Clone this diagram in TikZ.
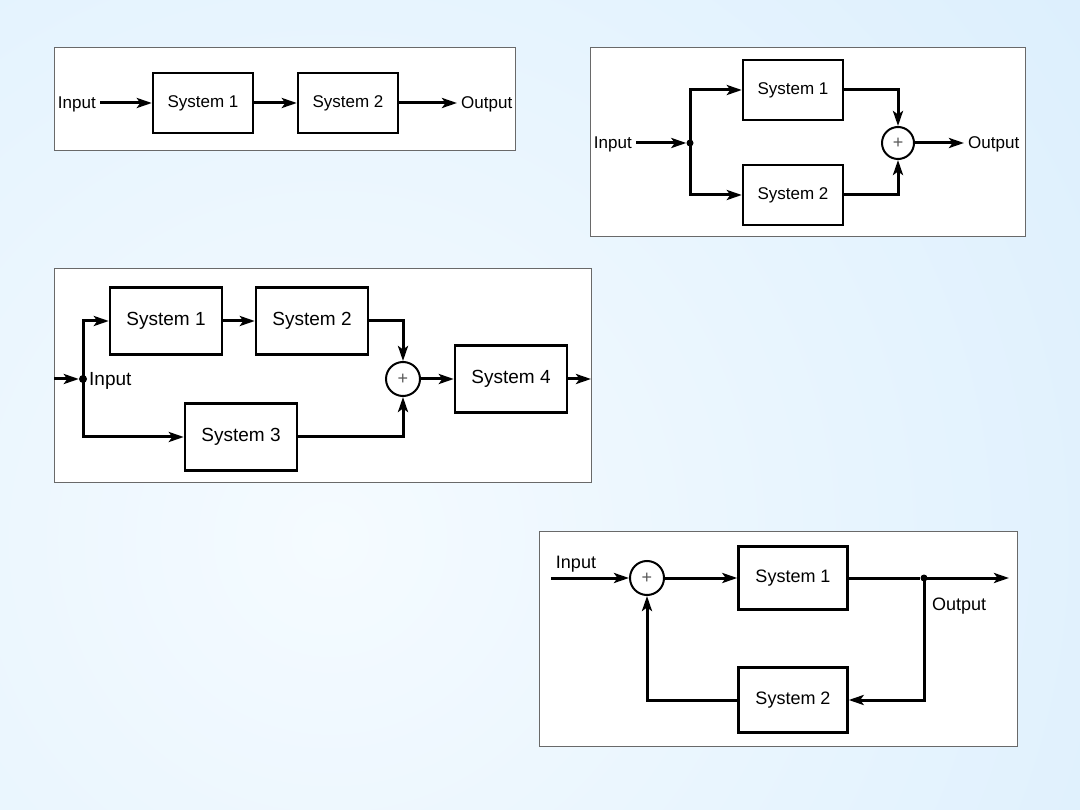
\documentclass[tikz,border=0pt]{standalone}
\usepackage{fontspec}
\setmainfont{Liberation Sans}
\usepackage{tikz}
\usetikzlibrary{positioning, arrows.meta}
\usepackage{xcolor}
\definecolor{bgdark}{RGB}{208,233,252}
\definecolor{bglight}{RGB}{245,251,255}
\definecolor{panelgray}{RGB}{105,105,105}

\tikzset{
  sysbox/.style={draw, line width=2.4pt, fill=white, minimum width=100pt, minimum height=60pt, inner sep=2pt},
  sumnode/.style={draw, circle, line width=2pt, fill=white, minimum size=32pt, inner sep=0pt,
    font=\fontsize{18}{18}\selectfont, text=black!65},
  junction/.style={circle, fill, inner sep=0pt, minimum size=7pt},
  sig/.style={line width=3pt, -{Stealth[length=15pt, width=10pt, inset=3.5pt]}},
  wire/.style={line width=3pt},
  panel/.style={draw=panelgray, line width=0.9pt, fill=white},
  lbl/.style={inner sep=1pt},
}

\begin{document}
\begin{tikzpicture}[x=1pt, y=-1pt]
    \useasboundingbox (0,0) rectangle (1080,810);

    % Slide background
    \begin{scope}
        \clip (0,0) rectangle (1080,810);
        \shade[inner color=bglight, outer color=bgdark] (330,540) circle (1400pt);
    \end{scope}

    % Cascade
    \draw[panel] (54,47) rectangle (515,150);
    \begin{scope}[font=\fontsize{17}{20}\selectfont]
        \node[lbl, anchor=east] (inA) at (97,104) {Input};
        \node[sysbox] (a1) at (203,103) {System 1};
        \node[sysbox] (a2) at (348,103) {System 2};
        \node[lbl, anchor=west] (outA) at (460,104) {Output};
    \end{scope}
    \draw[sig, shorten <=3pt] (inA.east |- a1) -- (a1);
    \draw[sig] (a1) -- (a2);
    \draw[sig, shorten >=3pt] (a2) -- (outA.west |- a2);

    % Parallel
    \draw[panel] (590,47) rectangle (1025,236);
    \begin{scope}[font=\fontsize{17}{20}\selectfont]
        \node[lbl, anchor=east] (inB) at (633,144) {Input};
        \node[junction] (jB) at (690,143) {};
        \node[sysbox] (b1) at (793,90) {System 1};
        \node[sysbox] (b2) at (793,195) {System 2};
        \node[sumnode] (sB) at (898,143) {+};
        \node[lbl, anchor=west] (outB) at (967,144) {Output};
    \end{scope}
    \draw[sig, shorten <=3pt] (inB.east |- jB) -- (jB);
    \draw[sig] (jB.center) |- (b1.west);
    \draw[sig] (jB.center) |- (b2.west);
    \draw[sig] (b1.east) -| (sB.north);
    \draw[sig] (b2.east) -| (sB.south);
    \draw[sig, shorten >=3pt] (sB) -- (outB.west |- sB);

    % Series-parallel
    \draw[panel] (54,268) rectangle (591,482);
    \begin{scope}[font=\fontsize{19}{22}\selectfont]
        \coordinate (inCstart) at (54,379);
        \node[junction, minimum size=8pt] (jC) at (83,379) {};
        \node[lbl, anchor=west] (inC) at (88,381) {Input};
        \node[sysbox, minimum width=112pt, minimum height=67pt] (c1) at (166,321) {System 1};
        \node[sysbox, minimum width=112pt, minimum height=67pt] (c2) at (312,321) {System 2};
        \node[sysbox, minimum width=112pt, minimum height=67pt] (c3) at (241,437) {System 3};
        \node[sysbox, minimum width=112pt, minimum height=67pt] (c4) at (511,379) {System 4};
        \node[sumnode, minimum size=34pt] (sC) at (403,379) {+};
        \coordinate (outC) at (591,379);
    \end{scope}
    \draw[sig] (inCstart) -- (jC);
    \draw[sig] (jC.center) |- (c1.west);
    \draw[sig] (jC.center) |- (c3.west);
    \draw[sig] (c1) -- (c2);
    \draw[sig] (c2.east) -| (sC.north);
    \draw[sig] (c3.east) -| (sC.south);
    \draw[sig] (sC) -- (c4);
    \draw[sig] (c4) -- (outC);

    % Feedback
    \draw[panel] (539,531) rectangle (1017,746);
    \begin{scope}[font=\fontsize{18}{21}\selectfont]
        \coordinate (inDstart) at (551,578);
        \node[lbl, anchor=base] (inD) at (576,568) {Input};
        \node[sumnode, minimum size=34pt] (sD) at (647,578) {+};
        \node[sysbox, minimum width=109pt, minimum height=63pt] (d1) at (793,578) {System 1};
        \node[sysbox, minimum width=109pt, minimum height=65pt] (d2) at (793,700) {System 2};
        \node[junction] (jD) at (924,578) {};
        \coordinate (outD) at (1009,578);
        \node[lbl, anchor=base west] (outDlbl) at (931,610) {Output};
    \end{scope}
    \draw[sig] (inDstart) -- (sD);
    \draw[sig] (sD) -- (d1);
    \draw[wire] (d1) -- (jD);
    \draw[sig] (jD.center) -- (outD);
    \draw[sig] (jD.center) |- (d2.east);
    \draw[sig] (d2.west) -| (sD.south);

\end{tikzpicture}
\end{document}
